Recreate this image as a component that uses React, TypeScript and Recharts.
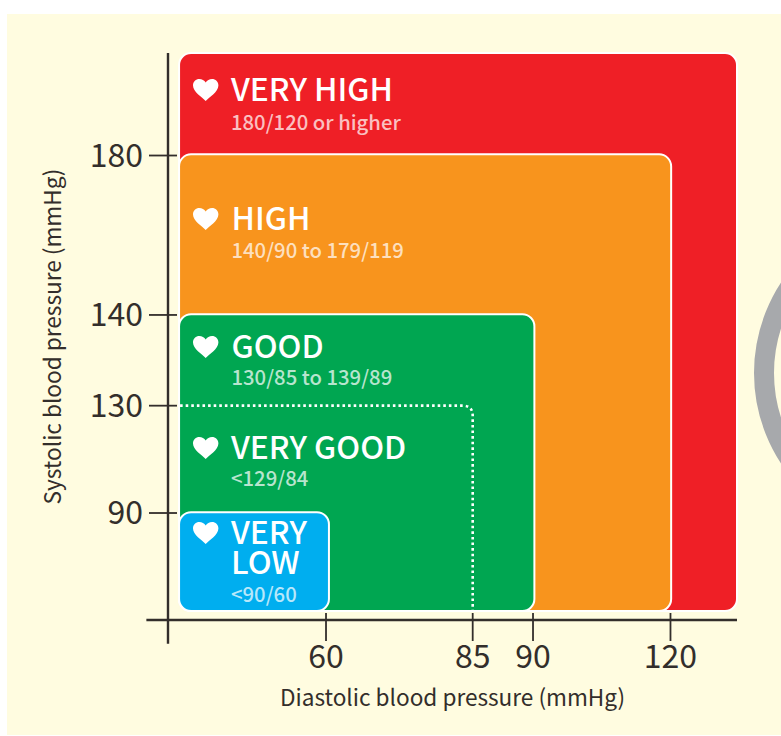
import React from "react";
import { ComposedChart, XAxis, YAxis, ReferenceArea, ReferenceLine, Label, Line } from "recharts";

const FONT = '"Noto Sans CJK SC", "Noto Sans", sans-serif';
const INK = "#332e2b";

// ---- data ----
const diastolicTicks = [60, 85, 90, 120];
const systolicTicks = [90, 130, 140, 180];
const zoneNames = ["VERY HIGH", "HIGH", "GOOD", "VERY GOOD", "VERY LOW"];
const zoneRanges = ["180/120 or higher", "140/90 to 179/119", "130/85 to 139/89", "<129/84", "<90/60"];
const boxDiastolicEnd = [140, 120.2, 90.3, 60.5];
const boxSystolicEnd = [206, 180.3, 140.2, 90.3];
const boxColors = ["#ef1f26", "#f8941d", "#00a651", "#00aeef"];

// The printed axis is not to scale: each tick sits at its own place along the axis,
// so values go through these knots before they reach the library's linear axis.
const xKnots: [number, number][] = [[0, 0], [60, 0.2777], [85, 0.5355], [90, 0.6415], [120, 0.8831], [140, 1]];
const yKnots: [number, number][] = [[60, 0], [90, 0.1887], [130, 0.378], [140, 0.538], [180, 0.8192], [206, 1]];

const place = (knots: [number, number][], v: number) => {
  let i = 0;
  while (i < knots.length - 2 && v > knots[i + 1][0]) i++;
  const [a, fa] = knots[i];
  const [b, fb] = knots[i + 1];
  return fa + ((v - a) / (b - a)) * (fb - fa);
};
const px = (v: number) => place(xKnots, v);
const py = (v: number) => place(yKnots, v);

const chartData = diastolicTicks.map((d, i) => ({ x: px(d), y: py(systolicTicks[i]) }));

const X0 = 4.2;
const Y0 = 62.5;

const RoundBox = (p: any) => (
  <rect x={p.x} y={p.y} width={p.width} height={p.height} rx={12} ry={12} fill={p.fill} stroke="#fff" strokeWidth={2} />
);

const Dotted = (p: any) => {
  const r = 10;
  const right = p.x + p.width;
  const d = `M${p.x + 1} ${p.y}H${right - r}Q${right} ${p.y} ${right} ${p.y + r}V${p.y + p.height}`;
  return <path d={d} fill="none" stroke="#fff" strokeWidth={2.6} strokeDasharray="2.6 3" />;
};

const XTick = (p: any) => (
  <g>
    <line x1={p.x} x2={p.x} y1={p.y - 7} y2={p.y + 21} stroke={INK} strokeWidth={1.8} />
    <text x={p.x} y={p.y + 48} textAnchor="middle" fontSize={32} fill={INK} fontFamily={FONT}>
      {diastolicTicks[p.index]}
    </text>
  </g>
);

const YTick = (p: any) => (
  <g>
    <line x1={p.x - 19} x2={p.x + 9} y1={p.y} y2={p.y} stroke={INK} strokeWidth={1.8} />
    <text x={p.x - 25} y={p.y + 11} textAnchor="end" fontSize={32} fill={INK} fontFamily={FONT}>
      {systolicTicks[p.index]}
    </text>
  </g>
);

const Heart = ({ x, y }: { x: number; y: number }) => (
  <path
    transform={`translate(${x} ${y})`}
    d="M12.7 22 C9 18 0 13 0 6.5 C0 2.5 3 0 6.3 0 C9 0 11.3 1.3 12.7 3.6 C14.1 1.3 16.4 0 19.1 0 C22.4 0 25.4 2.5 25.4 6.5 C25.4 13 16.4 18 12.7 22 Z"
    fill="#fff"
  />
);

// layout of the zone captions, index-matched to zoneNames / zoneRanges
const captionX = [231, 231.5, 231.5, 231, 231];
const captionBase = [101, 230, 358, 459, 544];
const rangeBase = [129.5, 258, 385, 485.7, 601.7];

const Captions = () => (
  <g fontFamily={FONT}>
    {zoneNames.map((name, i) => {
      const words = i === 4 ? name.split(" ") : [name];
      return (
        <g key={name}>
          <Heart x={193} y={captionBase[i] - 22} />
          {words.map((w, j) => (
            <text key={w} x={captionX[i]} y={captionBase[i] + j * 30} fontSize={31.7} fontWeight={500} fill="#fff">
              {w}
            </text>
          ))}
          <text x={captionX[i]} y={rangeBase[i]} fontSize={20.3} fontWeight={500} fill="#fff" fillOpacity={0.72}>
            {zoneRanges[i]}
          </text>
        </g>
      );
    })}
  </g>
);

export default function App() {
  return (
    <div style={{ position: "absolute", left: 0, top: 0, width: 781, height: 736, background: "#fff", overflow: "hidden" }}>
      <div style={{ position: "absolute", left: 7, top: 14, width: 774, height: 721, background: "#fffce0" }} />
      <div style={{ position: "absolute", left: 0, top: 0 }}>
        <ComposedChart width={781} height={736} data={chartData} margin={{ top: 53, right: 44, bottom: 16, left: 0 }}>
          <XAxis
            type="number"
            dataKey="x"
            domain={[0, 1]}
            ticks={diastolicTicks.map(px)}
            interval={0}
            height={100}
            axisLine={false}
            tickLine={false}
            tickSize={0}
            tickMargin={0}
            tick={<XTick />}
          >
            <Label value="Diastolic blood pressure (mmHg)" position="insideBottom" offset={14} fontSize={22.6} fill={INK} fontFamily={FONT} />
          </XAxis>
          <YAxis
            type="number"
            domain={[0, 1]}
            ticks={systolicTicks.map(py)}
            interval={0}
            width={168}
            axisLine={false}
            tickLine={false}
            tickSize={0}
            tickMargin={0}
            tick={<YTick />}
          >
            <Label value="Systolic blood pressure (mmHg)" position="insideLeft" angle={-90} offset={53} textAnchor="middle" fontSize={22.6} fill={INK} fontFamily={FONT} />
          </YAxis>
          <Line dataKey="y" stroke="none" dot={false} activeDot={false} legendType="none" isAnimationActive={false} />
          {boxColors.slice(0, 3).map((c, i) => (
            <ReferenceArea
              key={c}
              x1={px(X0)}
              x2={px(boxDiastolicEnd[i])}
              y1={py(Y0)}
              y2={py(boxSystolicEnd[i])}
              fill={c}
              fillOpacity={1}
              ifOverflow="visible"
              shape={<RoundBox />}
            />
          ))}
          <ReferenceArea x1={px(X0)} x2={px(85)} y1={py(Y0)} y2={py(130)} ifOverflow="visible" shape={<Dotted />} />
          <ReferenceArea
            x1={px(X0)}
            x2={px(boxDiastolicEnd[3])}
            y1={py(Y0)}
            y2={py(boxSystolicEnd[3])}
            fill={boxColors[3]}
            fillOpacity={1}
            ifOverflow="visible"
            shape={<RoundBox />}
          />
          <ReferenceArea x1={0} x2={1} y1={0} y2={1} ifOverflow="visible" shape={<Captions />} />
          <ReferenceLine segment={[{ x: 0, y: -0.042 }, { x: 0, y: 1 }]} stroke={INK} strokeWidth={2.4} ifOverflow="visible" />
          <ReferenceLine segment={[{ x: -0.038, y: 0 }, { x: 1, y: 0 }]} stroke={INK} strokeWidth={2.4} ifOverflow="visible" />
          <circle cx={919} cy={373} r={155} fill="none" stroke="#a7a9ac" strokeWidth={20} />
        </ComposedChart>
      </div>
    </div>
  );
}
